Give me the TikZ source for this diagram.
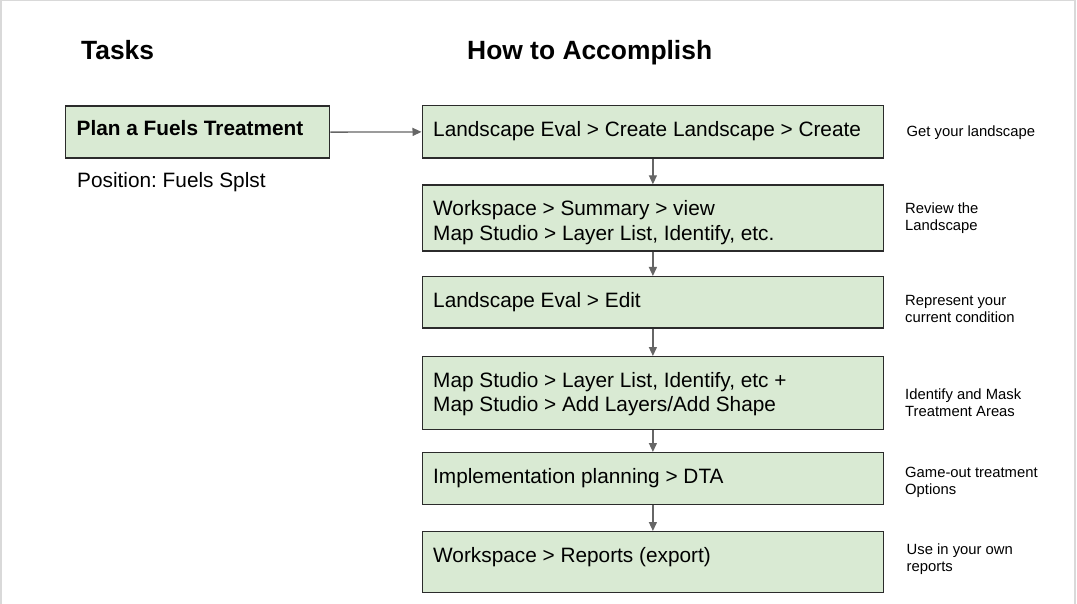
\documentclass[tikz,border=0pt]{standalone}
\usepackage{fontspec}
\setmainfont{Liberation Sans}
\usetikzlibrary{arrows.meta}
\frenchspacing

\definecolor{ink}{HTML}{000000}
\definecolor{sage}{HTML}{D9EAD3}
\definecolor{rim}{HTML}{2B2B2B}
\definecolor{wire}{HTML}{666666}
\definecolor{frame}{HTML}{D9D9D9}

\begin{document}
\begin{tikzpicture}[x=1pt,y=-1pt,text=ink]
  \useasboundingbox (0,0) rectangle (1077,604);
  % Page edge, light grey on three sides.
  \draw[frame,line width=1.5pt] (0.75,604) -- (0.75,0.75) -- (1075,0.75) -- (1075,604);

  \tikzset{
    stepbox/.style={draw=rim,fill=sage,line width=1.3pt,inner sep=0pt,anchor=north west,minimum width=461.5pt},
    steptext/.style={anchor=north west,inner sep=0pt,align=left,font=\fontsize{20.8}{24.6}\selectfont},
    aside/.style={anchor=north west,inner sep=0pt,align=left,font=\fontsize{14.8}{17}\selectfont},
    heading/.style={anchor=base west,inner sep=0pt,font=\fontsize{26.4}{30}\selectfont\bfseries},
    flow/.style={draw=wire,line width=1.3pt,-{Triangle[width=8pt,length=9pt]}}
  }

  % Column headings.
  \node[heading] (taskhead) at (81,59.5) {Tasks};
  \node[heading] (howhead) at (467,59.5) {How to Accomplish};

  % The task on the left.
  \node[stepbox,minimum width=264.5pt,minimum height=52pt] (plan) at (64.5,105.5) {};
  \node[steptext,font=\fontsize{20.8}{24.6}\selectfont\bfseries] (plantxt) at ([shift={(12,15)}]plan.north west) {Plan a Fuels Treatment};
  \node[anchor=base west,inner sep=0pt,font=\fontsize{20.8}{24.6}\selectfont] (role) at (77,188) {Position: Fuels Splst};

  % Steps, top to bottom.
  \node[stepbox,minimum height=52.5pt] (land) at (421.5,105) {};
  \node[stepbox,minimum height=66pt] (summ) at (421.5,184.3) {};
  \node[stepbox,minimum height=51.3pt] (edit) at (421.5,276) {};
  \node[stepbox,minimum height=73pt] (mask) at (421.5,356) {};
  \node[stepbox,minimum height=51.5pt] (dta) at (421.5,452) {};
  \node[stepbox,minimum height=61pt] (rep) at (421.5,531) {};

  \node[steptext] (landtxt) at ([shift={(11.5,16)}]land.north west) {Landscape Eval > Create Landscape > Create};
  \node[steptext] (summtxt) at ([shift={(11.5,16)}]summ.north west) {Workspace > Summary > view\\Map Studio > Layer List, Identify, etc.};
  \node[steptext] (edittxt) at ([shift={(11.5,16)}]edit.north west) {Landscape Eval > Edit};
  \node[steptext] (masktxt) at ([shift={(11.5,16)}]mask.north west) {Map Studio > Layer List, Identify, etc +\\Map Studio > Add Layers/Add Shape};
  \node[steptext] (dtatxt) at ([shift={(11.5,16)}]dta.north west) {Implementation planning > DTA};
  \node[steptext] (reptxt) at ([shift={(11.5,16)}]rep.north west) {Workspace > Reports (export)};

  % Notes beside each step.
  \node[aside] (getnote) at (906.5,125.2) {Get your landscape};
  \node[aside] (reviewnote) at (905,202.5) {Review the\\Landscape};
  \node[aside] (condnote) at (905,295.2) {Represent your\\current condition};
  \node[aside] (masknote) at (905,388.5) {Identify and Mask\\Treatment Areas};
  \node[aside] (gamenote) at (905,466.5) {Game-out treatment\\Options};
  \node[aside] (usenote) at (906.5,543.5) {Use in your own\\reports};

  % Connectors.
  \draw[flow] (plan.east) -- (land.west);
  \draw[flow] (land.south) -- (summ.north);
  \draw[flow] (summ.south) -- (edit.north);
  \draw[flow] (edit.south) -- (mask.north);
  \draw[flow] (mask.south) -- (dta.north);
  \draw[flow] (dta.south) -- (rep.north);
\end{tikzpicture}
\end{document}
